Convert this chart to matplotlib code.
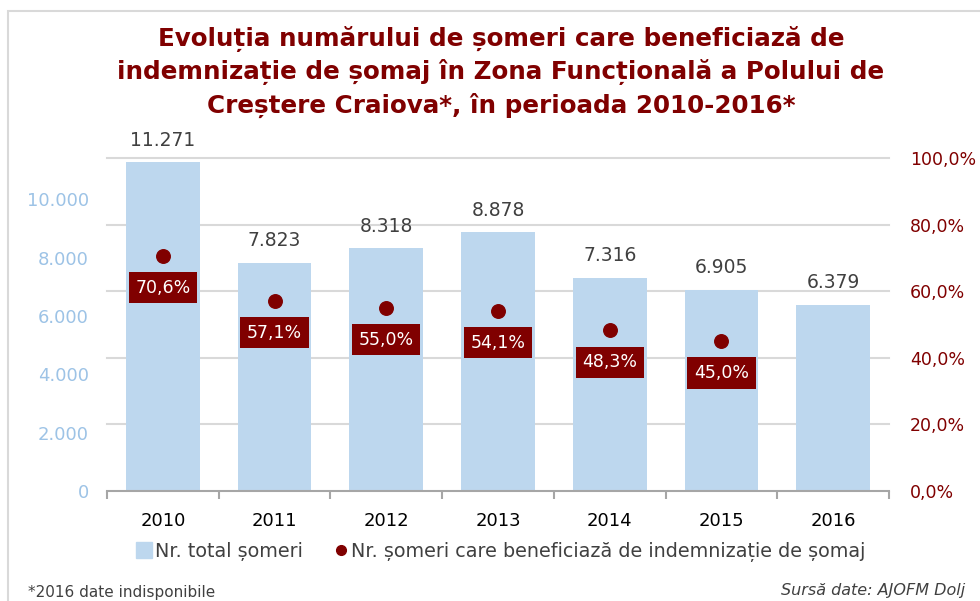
import matplotlib
matplotlib.use("Agg")
import matplotlib.pyplot as plt
from matplotlib.patches import Rectangle
from matplotlib.lines import Line2D
import numpy as np

plt.rcParams['font.family'] = ['DejaVu Sans']

years = ['2010', '2011', '2012', '2013', '2014', '2015', '2016']
total_someri = [11271, 7823, 8318, 8878, 7316, 6905, 6379]
pct_beneficiari = [70.6, 57.1, 55.0, 54.1, 48.3, 45.0, None]
left_ticks = [0, 2000, 4000, 6000, 8000, 10000]
left_tick_labels = ['0', '2.000', '4.000', '6.000', '8.000', '10.000']
right_ticks = [0, 20, 40, 60, 80, 100]
right_tick_labels = ['0,0%', '20,0%', '40,0%', '60,0%', '80,0%', '100,0%']
total_labels = ['11.271', '7.823', '8.318', '8.878', '7.316', '6.905', '6.379']

title = ("Evoluția numărului de șomeri care beneficiază de\n"
         "indemnizație de șomaj în Zona Funcțională a Polului de\n"
         "Creștere Craiova*, în perioada 2010-2016*")

BAR = '#BDD7EE'
RED = '#800000'
GRID = '#D9D9D9'
TXT = '#404040'

W, H = 980, 601
fig = plt.figure(figsize=(W / 100, H / 100), dpi=100)

# frame
fig.patches.append(Rectangle((8 / W, -0.1), 1.2, 1 - 11 / H + 0.1, transform=fig.transFigure,
                             fill=False, ec=GRID, lw=1.5, zorder=0))

ax = fig.add_axes([107 / W, 1 - 491 / H, 782 / W, 333 / H])
ax2 = ax.twinx()

YMAX = 11420
x = np.arange(len(years))
ax.set_xlim(-0.5, len(years) - 0.5)
ax.set_ylim(0, YMAX)
ax2.set_ylim(0, 100)

# gridlines (from right axis), drawn behind bars
for t in right_ticks[1:]:
    ax.axhline(t / 100 * YMAX, color=GRID, lw=1.5, zorder=0, clip_on=False)

ax.bar(x, total_someri, width=0.66, color=BAR, zorder=2)
for xi, v, lab in zip(x, total_someri, total_labels):
    ax.annotate(lab, (xi, v), xytext=(0, 9), textcoords='offset points',
                ha='center', va='bottom', fontsize=13.5, color=TXT)

for xi, p in zip(x, pct_beneficiari):
    if p is None:
        continue
    ax2.scatter([xi], [p], s=95, color=RED, zorder=4)
    ax2.annotate(f'{p:.1f}'.replace('.', ',') + '%', (xi, p), xytext=(0, -23),
                 textcoords='offset points', ha='center', va='center',
                 fontsize=12.5, color='white', zorder=5,
                 bbox=dict(boxstyle='square,pad=0.38', fc=RED, ec='none'))

# axes styling
for s in ['top', 'left', 'right']:
    ax.spines[s].set_visible(False)
    ax2.spines[s].set_visible(False)
ax2.spines['bottom'].set_visible(False)
ax.spines['bottom'].set_color('#A6A6A6')
ax.spines['bottom'].set_linewidth(1.5)

ax.set_xticks(x)
ax.set_xticklabels(years, fontsize=13, color='black')
ax.tick_params(axis='x', which='major', length=0, pad=15)
ax.set_xticks(np.arange(-0.5, len(years)), minor=True)
ax.tick_params(axis='x', which='minor', length=6, width=1.5, color='#A6A6A6', direction='out')

ax.set_yticks(left_ticks)
ax.set_yticklabels(left_tick_labels, fontsize=13, color='#9DC3E6')
ax.tick_params(axis='y', length=0, pad=13)

ax2.set_yticks(right_ticks)
ax2.set_yticklabels(right_tick_labels, fontsize=12.5, color=RED)
ax2.tick_params(axis='y', length=0, pad=15)

# title
fig.text(501 / W, 1 - 72 / H, title, ha='center', va='center', fontsize=17.7,
         fontweight='bold', color=RED, linespacing=1.38)

# legend
handles = [Line2D([], [], marker='s', ls='none', color=BAR, markersize=11),
           Line2D([], [], marker='o', ls='none', color=RED, markersize=7)]
labels = ['Nr. total șomeri', 'Nr. șomeri care beneficiază de indemnizație de șomaj']
fig.legend(handles, labels, loc='center', bbox_to_anchor=(501 / W, 1 - 552 / H), ncol=2,
           frameon=False, fontsize=13.8, labelcolor=TXT, handlelength=0.8,
           handletextpad=0.15, columnspacing=1.6)

fig.text(28 / W, 1 - 593 / H, '*2016 date indisponibile', ha='left', va='center',
         fontsize=11, color=TXT)
fig.text(965 / W, 1 - 590 / H, 'Sursă date: AJOFM Dolj', ha='right', va='center',
         fontsize=11.5, color=TXT, style='italic')

fig.savefig('out.png', dpi=100)
